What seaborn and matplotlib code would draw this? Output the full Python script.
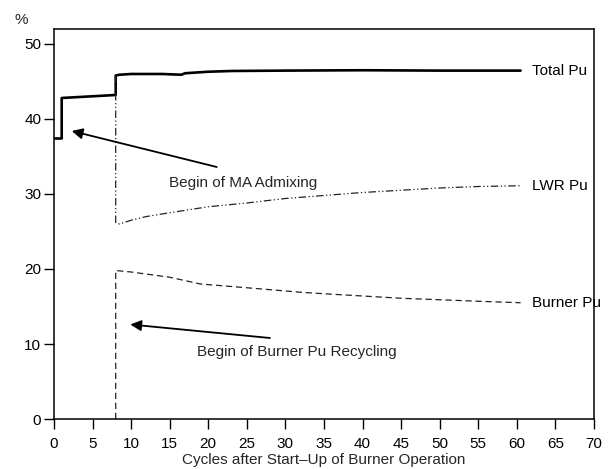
import matplotlib
matplotlib.use("Agg")
import matplotlib.pyplot as plt
import seaborn as sns
import pandas as pd

sns.set_theme(style="white")
plt.rcParams['font.family'] = ['Liberation Sans', 'DejaVu Sans']

total_x = [0, 1, 1, 8, 8, 8.5, 10, 14, 16.5, 17, 20, 23, 30, 40, 50, 60.5]
total_y = [37.4, 37.4, 42.8, 43.2, 45.8, 45.9, 46.0, 46.0, 45.9, 46.1, 46.3, 46.4, 46.45, 46.5, 46.45, 46.45]

lwr_x = [8, 8, 8.5, 10, 12, 15, 20, 25, 30, 35, 40, 45, 50, 55, 60.5]
lwr_y = [45.8, 26.2, 26.0, 26.5, 27.0, 27.5, 28.3, 28.8, 29.4, 29.8, 30.2, 30.5, 30.8, 31.0, 31.1]

burner_x = [8, 8, 10, 15, 19, 25, 32, 35, 40, 45, 50, 55, 60.5]
burner_y = [0, 19.8, 19.6, 18.9, 18.0, 17.5, 16.9, 16.7, 16.4, 16.1, 15.9, 15.7, 15.5]

labels = ["Total Pu", "LWR Pu", "Burner Pu"]
x_ticks = list(range(0, 71, 5))
y_ticks = list(range(0, 51, 10))

fig = plt.figure(figsize=(6.08, 4.69), dpi=100)
ax = fig.add_axes([0.0888, 0.1066, 0.888, 0.8316])

sns.lineplot(x=total_x, y=total_y, sort=False, estimator=None, ax=ax,
             color="black", lw=1.9)
sns.lineplot(x=lwr_x, y=lwr_y, sort=False, estimator=None, ax=ax,
             color="#222222", lw=0.9, linestyle=(0, (6, 2, 1, 2, 1, 2)))
sns.lineplot(x=burner_x, y=burner_y, sort=False, estimator=None, ax=ax,
             color="#222222", lw=0.9, linestyle=(0, (5, 3)))

for lab, xs, ys in zip(labels, [total_x, lwr_x, burner_x], [total_y, lwr_y, burner_y]):
    ax.text(xs[-1] + 1.5, ys[-1], lab, va="center", ha="left", fontsize=11, color="black")

ax.annotate("", xy=(2.3, 38.4), xytext=(21.1, 33.6),
            arrowprops=dict(arrowstyle="-|>", color="black", lw=1.3,
                            mutation_scale=16, shrinkA=0, shrinkB=0))
ax.text(24.5, 31.5, "Begin of MA Admixing", ha="center", va="center", fontsize=11)

ax.annotate("", xy=(9.9, 12.6), xytext=(28.0, 10.8),
            arrowprops=dict(arrowstyle="-|>", color="black", lw=1.3,
                            mutation_scale=16, shrinkA=0, shrinkB=0))
ax.text(31.5, 8.9, "Begin of Burner Pu Recycling", ha="center", va="center", fontsize=11)

ax.set_xlim(0, 70)
ax.set_ylim(0, 52)
ax.set_xticks(x_ticks)
ax.set_yticks(y_ticks)
ax.tick_params(axis="both", direction="out", length=7.2, width=1, color="black",
               labelsize=11, labelcolor="black", bottom=True, left=True)
ax.tick_params(axis="x", pad=6)
ax.tick_params(axis="y", pad=2)
for s in ax.spines.values():
    s.set_color("black")
    s.set_linewidth(1.1)
ax.set_xlabel("Cycles after Start\u2013Up of Burner Operation", fontsize=11, labelpad=1)
ax.set_ylabel("")
ax.text(-0.061, 1.023, "%", transform=ax.transAxes, fontsize=11, ha="center", va="center")

fig.savefig("out.png", dpi=100)
